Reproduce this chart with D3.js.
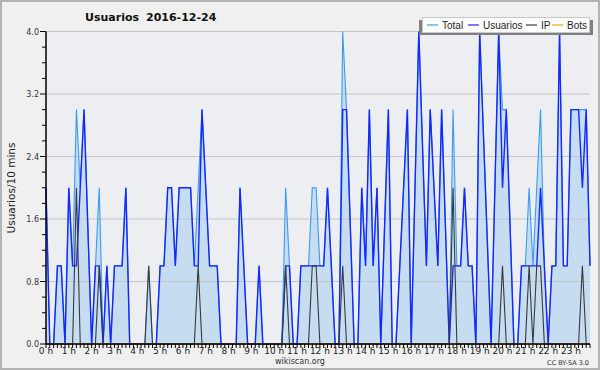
<!DOCTYPE html>
<html>
<head>
<meta charset="utf-8">
<script src="https://cdn.jsdelivr.net/npm/d3@7"></script>
<style>
  body { margin: 0; background: #f0f0f0; }
  svg { display: block; font-family: "DejaVu Sans", sans-serif; }
</style>
</head>
<body>
<div id="chart"></div>
<script>
// Usuarios 2016-12-24, one value per 10 minutes (6 per hour)
const hours = d3.range(0, 24);
const usuarios = [
  2, 0, 0, 1, 1, 0,   2, 1, 1, 2, 3, 1.5,   0, 1, 1, 0, 1, 0,   1, 1, 1, 2, 0, 0,
  0, 0, 0, 0, 0, 0,   1, 1, 2, 2, 1, 2,     2, 2, 2, 1, 1, 3,   2, 1, 1, 1, 0, 0,
  0, 0, 0, 2, 1, 0,   0, 0, 1, 0, 0, 0,     0, 0, 0, 1, 1, 0,   0, 1, 1, 1, 1, 1,
  1, 1, 2, 1, 0, 0,   3, 3, 1.5, 0, 0, 2,   1, 3, 1, 2, 0, 1.5, 3, 0, 0, 1, 2, 3,
  0, 2, 4, 2.5, 1, 3, 2, 1, 3, 1.5, 0, 1,   1, 1, 2, 1, 1, 0,   4, 2.67, 1.33, 0, 2, 4,
  2, 3, 1.5, 0, 0, 1, 1, 1, 1, 1, 2, 1,     0, 1, 1, 4, 1, 1,   3, 3, 3, 2, 3, 1
];
const total = [
  2, 0, 0, 1, 1, 0,   2, 1, 3, 2, 3, 1.5,   0, 1, 2, 0, 1, 0,   1, 1, 1, 2, 0, 0,
  0, 0, 0, 1, 0, 0,   1, 1, 2, 2, 1, 2,     2, 2, 2, 1, 2, 3,   2, 1, 1, 1, 0, 0,
  0, 0, 0, 2, 1, 0,   0, 0, 1, 0, 0, 0,     0, 0, 0, 2, 1, 0,   0, 1, 1, 1, 2, 2,
  1, 1, 2, 1, 0, 0,   4, 3, 1.5, 0, 0, 2,   1, 3, 1, 2, 0, 1.5, 3, 0, 0, 1, 2, 3,
  0, 2, 4, 2.5, 1, 3, 2, 1, 3, 1.5, 0, 3,   1, 1, 2, 1, 1, 0,   4, 2.67, 1.33, 0, 2, 4,
  3, 3, 1.5, 0, 0, 1, 1, 2, 1, 2, 3, 1,     0, 1, 1, 4, 1, 1,   3, 3, 3, 3, 3, 1
];
const ip = [
  0, 0, 0, 0, 0, 0,   0, 0, 2, 0, 0, 0,   0, 0, 1, 0, 0, 0,   0, 0, 0, 0, 0, 0,
  0, 0, 0, 1, 0, 0,   0, 0, 0, 0, 0, 0,   0, 0, 0, 0, 1, 0,   0, 0, 0, 0, 0, 0,
  0, 0, 0, 0, 0, 0,   0, 0, 0, 0, 0, 0,   0, 0, 0, 1, 0, 0,   0, 0, 0, 0, 1, 1,
  0, 0, 0, 0, 0, 0,   1, 0, 0, 0, 0, 0,   0, 0, 0, 0, 0, 0,   0, 0, 0, 0, 0, 0,
  0, 0, 0, 0, 0, 0,   0, 0, 0, 0, 0, 2,   0, 0, 0, 0, 0, 0,   0, 0, 0, 0, 0, 0,
  1, 0, 0, 0, 0, 0,   0, 1, 0, 1, 1, 0,   0, 0, 0, 0, 0, 0,   0, 0, 0, 1, 0, 0
];
const bots = new Array(144).fill(0);
const yTicks = [0, 0.8, 1.6, 2.4, 3.2, 4.0];
const seriesNames = ["Total", "Usuarios", "IP", "Bots"];
const seriesColors = ["#3c9cf0", "#1428ff", "#3a3a3a", "#ffa020"];

var chart = {
  width: 600,
  height: 370,
  top: 31.5,
  right: 10,
  bottom: 26,
  left: 46,
};

let svg = d3.select("#chart")
  .append("svg")
  .attr("width", chart.width)
  .attr("height", chart.height);

// frame
svg.append("rect").attr("x", 0).attr("y", 0).attr("width", 600).attr("height", 370).style("fill", "#f0f0f0");
svg.append("rect").attr("x", 1).attr("y", 1).attr("width", 598).attr("height", 368)
  .style("fill", "none").style("stroke", "#b4b4b4").style("stroke-width", 2);

let x = d3.scaleLinear()
  .domain([0, 143])
  .range([chart.left, chart.width - chart.right]);
let y = d3.scaleLinear()
  .domain([0, 4])
  .range([chart.height - chart.bottom, chart.top]);

/* plot background */
svg.append("rect")
  .attr("x", x(0)).attr("y", y(4))
  .attr("width", x(143) - x(0)).attr("height", y(0) - y(4))
  .style("fill", "#eceef1");

/* total area */
svg.append("path")
  .datum(total)
  .attr("d", d3.area().x((d, i) => x(i)).y0(y(0)).y1((d) => y(d)))
  .style("fill", "#c6ddf1");

/* grid */
svg.append("g")
  .selectAll("line")
  .data(yTicks.slice(1))
  .enter()
  .append("line")
  .attr("x1", x(0)).attr("x2", x(143))
  .attr("y1", (d) => y(d)).attr("y2", (d) => y(d))
  .style("stroke", "#c4c6c8")
  .style("stroke-width", 1);

/* series lines */
let line = d3.line().x((d, i) => x(i)).y((d) => y(d));
[total, usuarios, ip, bots].forEach((s, k) => {
  svg.append("path")
    .datum(s)
    .attr("d", line)
    .style("fill", "none")
    .style("stroke", seriesColors[k])
    .style("stroke-width", k === 1 ? 1.4 : 1.1);
});

/* y axis */
let yAxis = svg.append("g").attr("transform", `translate(${chart.left}, 0)`);
yAxis.append("line")
  .attr("x1", 0).attr("x2", 0).attr("y1", y(4)).attr("y2", y(0))
  .style("stroke", "#000").style("stroke-width", 1.5);
yAxis.selectAll(".minor")
  .data(d3.range(0, 21).map((d) => d * 0.2))
  .enter()
  .append("line")
  .attr("x1", (d, i) => i % 4 === 0 ? -6 : -4).attr("x2", 0)
  .attr("y1", (d) => y(d)).attr("y2", (d) => y(d))
  .style("stroke", "#000").style("stroke-width", 1);
yAxis.selectAll("text")
  .data(yTicks)
  .enter()
  .append("text")
  .attr("x", -7)
  .attr("y", (d) => y(d) + 3)
  .attr("text-anchor", "end")
  .style("font-size", "8px")
  .style("fill", "#333")
  .text((d) => d.toFixed(1));

/* x axis */
let xAxis = svg.append("g").attr("transform", `translate(0, ${y(0)})`);
xAxis.append("line")
  .attr("x1", x(0)).attr("x2", x(143))
  .style("stroke", "#000").style("stroke-width", 1.5);
xAxis.selectAll(".tick")
  .data(d3.range(0, 144))
  .enter()
  .append("line")
  .attr("x1", (d) => x(d)).attr("x2", (d) => x(d))
  .attr("y1", 0).attr("y2", 4)
  .style("stroke", "#000").style("stroke-width", 1);
xAxis.selectAll("text")
  .data(hours)
  .enter()
  .append("text")
  .attr("x", (d) => x(d * 6))
  .attr("y", 10)
  .attr("text-anchor", "middle")
  .style("font-size", "9px")
  .style("fill", "#222")
  .text((d) => d + " h");

/* title and labels */
svg.append("text").attr("x", 85).attr("y", 21).text("Usuarios")
  .style("font-size", "11px").style("font-weight", "bold").style("fill", "#111");
svg.append("text").attr("x", 146).attr("y", 21).text("2016-12-24")
  .style("font-size", "11px").style("font-weight", "bold").style("fill", "#111");
svg.append("text")
  .attr("transform", "translate(15, 188) rotate(-90)")
  .attr("text-anchor", "middle")
  .style("font-size", "10.5px")
  .style("fill", "#222")
  .text("Usuarios/10 mins");
svg.append("text").attr("x", 300).attr("y", 364).attr("text-anchor", "middle")
  .style("font-size", "8px").style("fill", "#333").text("wikiscan.org");
svg.append("text").attr("x", 589).attr("y", 365).attr("text-anchor", "end")
  .style("font-size", "6.5px").style("fill", "#333").text("CC BY-SA 3.0");

/* legend */
let legend = svg.append("g");
legend.append("rect").attr("x", 419).attr("y", 20).attr("width", 174).attr("height", 15).style("fill", "#808080");
legend.append("rect").attr("x", 422.5).attr("y", 17.5).attr("width", 167).attr("height", 15)
  .style("fill", "#fff").style("stroke", "#c8c8c8").style("stroke-width", 1);
let legendX = [427, 468, 526, 552];
seriesNames.forEach((name, k) => {
  legend.append("line")
    .attr("x1", legendX[k]).attr("x2", legendX[k] + 11)
    .attr("y1", 25).attr("y2", 25)
    .style("stroke", seriesColors[k]).style("stroke-width", 1.2);
  legend.append("text")
    .attr("x", legendX[k] + 15).attr("y", 28.5)
    .style("font-family", "Liberation Sans, sans-serif")
    .style("font-size", "10px").style("fill", "#222")
    .text(name);
});
</script>
</body>
</html>
